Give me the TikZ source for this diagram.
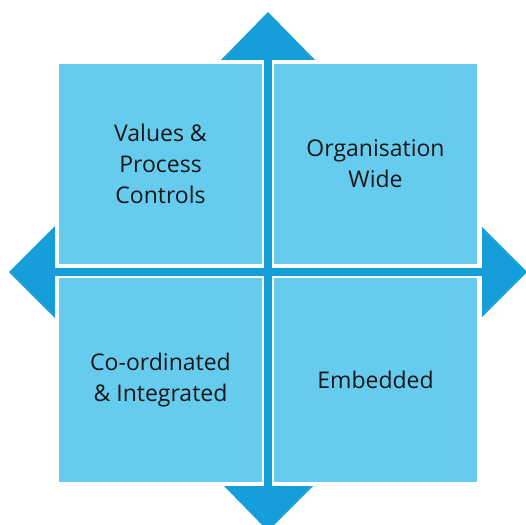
\documentclass[tikz,border=0pt]{standalone}
\usepackage{fontspec}
\setmainfont{Open Sans}
\definecolor{tile}{RGB}{102,204,237}
\definecolor{crossblue}{RGB}{22,158,218}
\definecolor{ink}{RGB}{22,22,26}
\begin{document}
\begin{tikzpicture}[x=1pt,y=-1pt,
  tile/.style={rectangle, fill=tile, draw=white, line width=2.5pt,
    inner sep=0pt, text=ink, align=center,
    font=\fontsize{23}{31}\selectfont},
  arrowhead/.style={fill=crossblue, draw=none}]
\useasboundingbox (0,0) rectangle (526,524);
% central cross with four arrowheads
\fill[crossblue] (264,58) rectangle (272,488);
\fill[crossblue] (53,268) rectangle (484,276);
\fill[arrowhead] (268,12) -- (315,60) -- (221,60) -- cycle;
\fill[arrowhead] (9,272) -- (55,226) -- (55,318) -- cycle;
\fill[arrowhead] (527,272) -- (482,227) -- (482,317) -- cycle;
\fill[arrowhead] (268,531) -- (224,486) -- (313,486) -- cycle;
% four quadrant tiles
\node[tile, minimum width=205pt, minimum height=202pt] (tl) at (160.5,164)
  {Values \&\\Process\\Controls};
\node[tile, minimum width=205pt, minimum height=202pt] (tr) at (375.5,164)
  {Organisation\\Wide};
\node[tile, minimum width=205pt, minimum height=206pt] (bl) at (160.5,380)
  {Co-ordinated\\\& Integrated};
\node[tile, minimum width=205pt, minimum height=206pt] (br) at (375.5,380)
  {Embedded};
\end{tikzpicture}
\end{document}
